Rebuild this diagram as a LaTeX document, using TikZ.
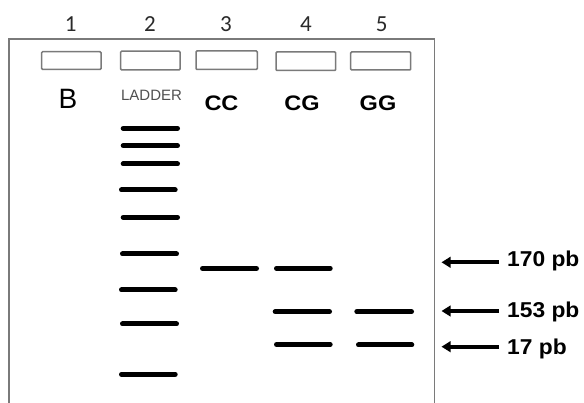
\documentclass[tikz,border=0pt]{standalone}
\usepackage{fontspec}
\setmainfont{Liberation Sans}
\newfontfamily\numfont{Carlito}
\usetikzlibrary{arrows.meta}
\definecolor{gelgray}{HTML}{7A7A7A}
\definecolor{numgray}{HTML}{2A2A2A}
\definecolor{laddergray}{HTML}{505050}
\tikzset{
  gelline/.style={draw=gelgray, line width=1.6pt},
  wellbox/.style={draw=gelgray, line width=1.5pt, rounded corners=1pt},
  band/.style={line width=5pt, line cap=round, black},
  lanenum/.style={font=\numfont\fontsize{23}{25}\selectfont, text=numgray, inner sep=0pt},
  genotype/.style={font=\bfseries\fontsize{21}{23}\selectfont, inner sep=0pt, anchor=base},
  sizelabel/.style={font=\bfseries\fontsize{21.5}{24}\selectfont, inner sep=0pt, anchor=base west},
  sizearrow/.style={line width=4.2pt, -{Triangle[length=9pt,width=10.5pt]}}
}
\begin{document}
\begin{tikzpicture}[x=1pt,y=-1pt]
\useasboundingbox (0,0) rectangle (584,403);
\fill[white] (0,0) rectangle (584,403);
% gel outline (open at bottom)
\draw[gelline] (9,406) -- (9,39) -- (434.5,39) -- (434.5,406);
% lane numbers
\node[lanenum] (n1) at (70.7,24) {1};
\node[lanenum] (n2) at (150,24) {2};
\node[lanenum] (n3) at (226,24) {3};
\node[lanenum] (n4) at (306,24) {4};
\node[lanenum] (n5) at (381.7,24) {5};
% wells
\draw[wellbox] (41.7,51.7) rectangle (101,69.5);
\draw[wellbox] (120.7,51.2) rectangle (180,70);
\draw[wellbox] (196,51) rectangle (257.3,69.5);
\draw[wellbox] (276,52) rectangle (335.7,70.5);
\draw[wellbox] (350.7,52) rectangle (410.7,70);
% lane labels
\node[font=\fontsize{28}{30}\selectfont, inner sep=0pt] (lb) at (68,99) {B};
\node[font=\fontsize{15}{17}\selectfont, text=laddergray, inner sep=0pt] (ll) at (151.5,95.3) {LADDER};
\node[genotype] (l3) at (221.5,111) {\scalebox{1.12}[1]{CC}};
\node[genotype] (l4) at (302,111) {\scalebox{1.12}[1]{CG}};
\node[genotype] (l5) at (378,111) {\scalebox{1.12}[1]{GG}};
% ladder bands
\draw[band] (123.2,128.3) -- (177.5,128.3);
\draw[band] (123.2,145.7) -- (177.5,145.7);
\draw[band] (123.2,164) -- (177.5,164);
\draw[band] (121.5,190) -- (175.2,190);
\draw[band] (123.2,217.3) -- (177.5,217.3);
\draw[band] (122.5,254) -- (176.5,254);
\draw[band] (121.5,290) -- (175.2,290);
\draw[band] (122.5,324) -- (176.5,324);
\draw[band] (121.5,374.3) -- (175.2,374.3);
% CC
\draw[band] (202.5,268.5) -- (256.5,268.5);
% CG
\draw[band] (276.5,268.3) -- (330.2,268.3);
\draw[band] (275.2,311.7) -- (329.5,311.7);
\draw[band] (276.5,344.5) -- (330.2,344.5);
% GG
\draw[band] (356.8,311.7) -- (411.5,311.7);
\draw[band] (358.5,345) -- (411.8,345);
% size labels and arrows
\node[sizelabel] (s170) at (507,266.7) {\scalebox{1.06}[1]{170 pb}};
\node[sizelabel] (s153) at (507,318) {\scalebox{1.06}[1]{153 pb}};
\node[sizelabel] (s17) at (507,354.5) {\scalebox{1.06}[1]{17 pb}};
\coordinate (a170t) at (499,262.3);
\coordinate (a170h) at (441.5,262.3);
\coordinate (a153t) at (499,311);
\coordinate (a153h) at (441.5,311);
\coordinate (a17t) at (499,346.7);
\coordinate (a17h) at (441.5,346.7);
\draw[sizearrow] (a170t) -- (a170h);
\draw[sizearrow] (a153t) -- (a153h);
\draw[sizearrow] (a17t) -- (a17h);
\end{tikzpicture}
\end{document}
